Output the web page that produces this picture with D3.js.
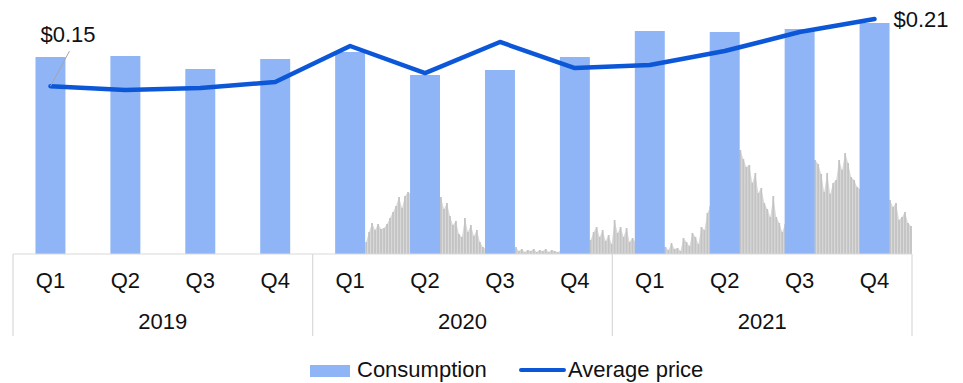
<!DOCTYPE html>
<html>
<head>
<meta charset="utf-8">
<script src="https://cdn.jsdelivr.net/npm/d3@7/dist/d3.min.js"></script>
<style>
  html, body { margin: 0; padding: 0; background: #ffffff; }
  svg { display: block; font-family: "Liberation Sans", Arial, Helvetica, sans-serif; }
</style>
</head>
<body>
<svg id="chart" width="963" height="383"></svg>
<script>
// Quarterly categories, grouped by year
const years = ["2019", "2020", "2021"];
const quarters = ["Q1", "Q2", "Q3", "Q4"];

// Quarterly consumption (relative units)
const consumption = [197, 198, 185, 195, 202, 179, 184, 197, 223, 222, 225, 231];

// Quarterly average price ($ per kWh)
const avgPrice = [0.150, 0.1466, 0.1483, 0.1537, 0.1859, 0.1617, 0.1895, 0.1662, 0.1689, 0.1814, 0.1984, 0.210];

// Daily wholesale price trace shown in the background (relative units), from early 2020 onwards
const spotTrace = [
  12, 22, 31, 24, 30, 25, 26, 30, 36, 42, 48, 57, 46, 58, 62,
  60, 55, 63, 58, 52, 60, 56, 50, 58, 54,
  57, 45, 51, 38, 29, 33, 20, 17, 36, 22, 29, 18, 24, 12, 7,
  5, 3, 6, 4, 3, 5, 2, 4, 6, 3,
  7, 3, 5, 2, 4, 3, 5, 2, 4, 3, 5, 2, 4, 3, 2,
  3, 6, 4, 8, 5, 10, 7, 12, 9, 11,
  14, 22, 27, 17, 24, 13, 19, 10, 34, 21, 27, 17, 26, 12, 16,
  12, 8, 14, 10, 6, 11, 9, 5, 8, 6,
  7, 4, 11, 5, 6, 3, 16, 12, 8, 21, 17, 10, 27, 24, 41,
  48, 60, 72, 55, 80, 68, 90, 75, 95, 100,
  104, 95, 87, 89, 71, 81, 61, 66, 51, 45, 37, 58, 37, 31, 22,
  30, 45, 60, 50, 70, 65, 80, 75, 85, 90,
  94, 90, 80, 62, 81, 60, 71, 74, 94, 84, 101, 91, 77, 74, 67,
  65, 70, 60, 58, 62, 55, 50, 58, 52, 56,
  54, 47, 51, 34, 37, 42, 31, 28
];

const labels = [];
years.forEach(y => quarters.forEach(q => labels.push(y + " " + q)));

const svg = d3.select("#chart");

const left = 13, right = 912, baseY = 254, topY = 14;
const axisBottom = 336;

const x = d3.scaleBand()
  .domain(labels)
  .range([left, right])
  .paddingInner(0.6)
  .paddingOuter(0.3);

const yCons = d3.scaleLinear().domain([0, 240]).range([baseY, topY]);
const yPrice = d3.scaleLinear().domain([0, 0.2145]).range([baseY, topY]);
const ySpot = d3.scaleLinear().domain([0, 240]).range([baseY, topY]);

// Background trace spans from mid Q1 2020 to the right edge
const traceStart = x("2020 Q1") + x.bandwidth() + 1;
const xSpot = d3.scaleLinear().domain([0, spotTrace.length - 1]).range([traceStart, right - 1]);

const trace = svg.append("g");
// soft envelope
trace.append("path")
  .datum(spotTrace)
  .attr("fill", "#d9d9d9")
  .attr("d", d3.area()
    .x((d, i) => xSpot(i))
    .y0(baseY)
    .y1(d => ySpot(d)));
// daily streaks
trace.selectAll("rect")
  .data(spotTrace)
  .join("rect")
  .attr("x", (d, i) => xSpot(i) - 0.9)
  .attr("width", 1.8)
  .attr("y", d => ySpot(d))
  .attr("height", d => baseY - ySpot(d))
  .attr("fill", "#c3c3c3");

// Consumption bars
svg.append("g")
  .selectAll("rect")
  .data(consumption)
  .join("rect")
  .attr("x", (d, i) => x(labels[i]))
  .attr("width", x.bandwidth())
  .attr("y", d => yCons(d))
  .attr("height", d => baseY - yCons(d))
  .attr("fill", "#8fb5f7");

// Category axis: baseline, group separators, quarter and year labels
const axis = svg.append("g");
const step = x.step();
const groupEdge = i => left + i * quarters.length * step;

axis.append("line")
  .attr("x1", left).attr("x2", right)
  .attr("y1", baseY).attr("y2", baseY)
  .attr("stroke", "#d9d9d9").attr("stroke-width", 1.2);

d3.range(years.length + 1).forEach(i => {
  axis.append("line")
    .attr("x1", groupEdge(i)).attr("x2", groupEdge(i))
    .attr("y1", baseY).attr("y2", axisBottom)
    .attr("stroke", "#d9d9d9").attr("stroke-width", 1.2);
});

axis.selectAll("text.q")
  .data(labels)
  .join("text")
  .attr("class", "q")
  .attr("x", d => x(d) + x.bandwidth() / 2)
  .attr("y", 288)
  .attr("text-anchor", "middle")
  .attr("font-size", 22)
  .attr("fill", "#111")
  .text(d => d.split(" ")[1]);

axis.selectAll("text.yr")
  .data(years)
  .join("text")
  .attr("class", "yr")
  .attr("x", (d, i) => (groupEdge(i) + groupEdge(i + 1)) / 2)
  .attr("y", 329)
  .attr("text-anchor", "middle")
  .attr("font-size", 22)
  .attr("fill", "#111")
  .text(d => d);

// Average price line
const cx = i => x(labels[i]) + x.bandwidth() / 2;
svg.append("path")
  .datum(avgPrice)
  .attr("fill", "none")
  .attr("stroke", "#0b57d8")
  .attr("stroke-width", 4.5)
  .attr("stroke-linejoin", "round")
  .attr("stroke-linecap", "round")
  .attr("d", d3.line().x((d, i) => cx(i)).y(d => yPrice(d)));

// First and last value callouts
const first = 0, last = avgPrice.length - 1;
svg.append("line")
  .attr("x1", cx(first)).attr("y1", yPrice(avgPrice[first]))
  .attr("x2", cx(first) + 19).attr("y2", yPrice(avgPrice[first]) - 35)
  .attr("stroke", "#a6a6a6").attr("stroke-width", 1);

svg.append("text")
  .attr("x", cx(first) - 10)
  .attr("y", 42)
  .attr("font-size", 22)
  .attr("fill", "#111")
  .text("$" + avgPrice[first].toFixed(2));

svg.append("text")
  .attr("x", cx(last) + 19)
  .attr("y", yPrice(avgPrice[last]) + 8)
  .attr("font-size", 22)
  .attr("fill", "#111")
  .text("$" + avgPrice[last].toFixed(2));

// Legend
const legend = svg.append("g");
legend.append("rect")
  .attr("x", 310).attr("y", 365).attr("width", 40).attr("height", 12)
  .attr("fill", "#8fb5f7");
legend.append("text")
  .attr("x", 357).attr("y", 377)
  .attr("font-size", 22).attr("fill", "#111")
  .text("Consumption");
legend.append("line")
  .attr("x1", 521).attr("x2", 564).attr("y1", 370).attr("y2", 370)
  .attr("stroke", "#0b57d8").attr("stroke-width", 4).attr("stroke-linecap", "round");
legend.append("text")
  .attr("x", 568).attr("y", 377)
  .attr("font-size", 22).attr("fill", "#111")
  .text("Average price");
</script>
</body>
</html>
